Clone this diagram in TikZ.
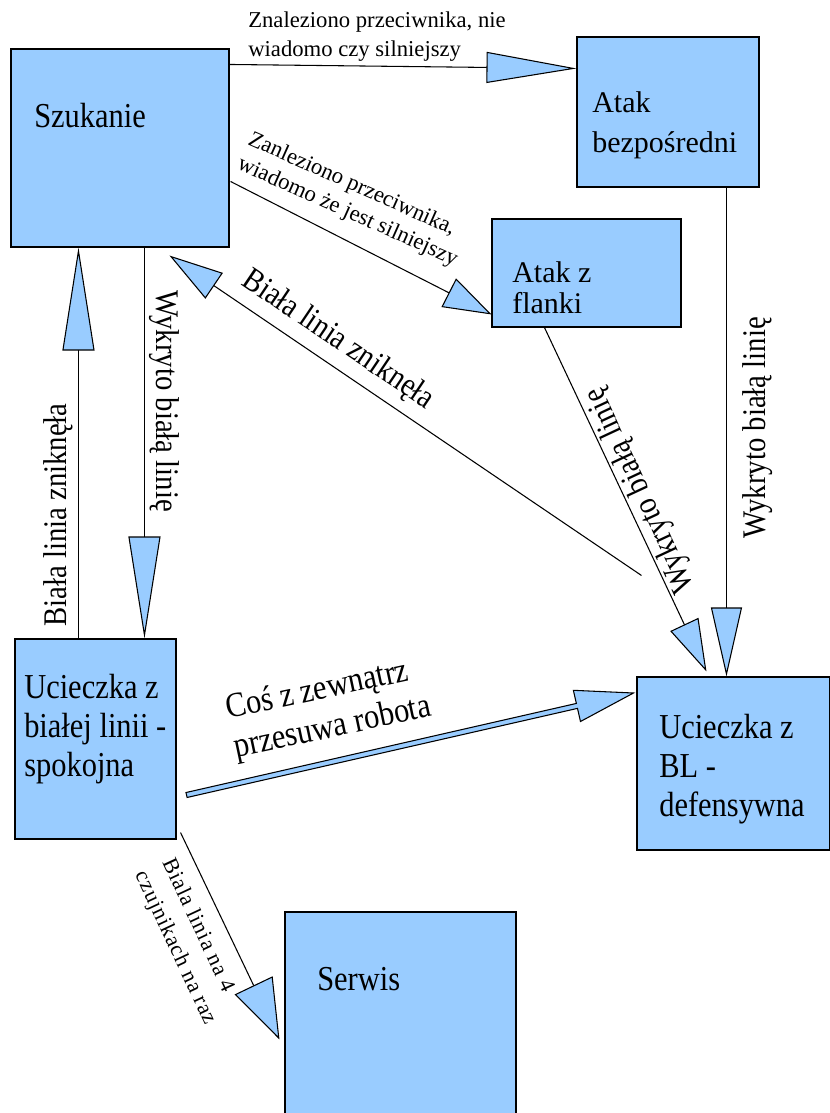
\documentclass[tikz,border=0pt]{standalone}
\usepackage{fontspec}
\setmainfont{Liberation Serif}
\newfontfamily\condfont[FakeStretch=0.87]{Liberation Serif}
\newfontfamily\spacedfont[LetterSpace=4]{Liberation Serif}
\usetikzlibrary{arrows.meta,calc,fit}
\definecolor{boxblue}{HTML}{99CCFF}
\newcommand{\mylines}[2][l]{\begin{tabular}[t]{@{}#1@{}}#2\end{tabular}}
\tikzset{
  box/.style={draw=black, fill=boxblue, line width=0.8pt, inner sep=0pt},
  bigtxt/.style={font=\condfont\fontsize{26.25pt}{29.6pt}\selectfont, inner sep=0pt},
  atxt/.style={font=\fontsize{22.5pt}{29.25pt}\selectfont, inner sep=0pt},
  atxtb/.style={font=\fontsize{22.5pt}{23.8pt}\selectfont, inner sep=0pt},
  lbltxt/.style={font=\condfont\fontsize{24.75pt}{28.5pt}\selectfont, inner sep=0pt},
  smalltxt/.style={font=\fontsize{17pt}{21.75pt}\selectfont, inner sep=0pt},
  conn/.style={draw=black, line width=0.8pt},
  hd/.style 2 args={-{Triangle[length=#1, width=#2, fill=boxblue]}}
}
\begin{document}
\begin{tikzpicture}[x=0.75pt,y=-0.75pt]
\useasboundingbox (0,0) rectangle (829,1113);
% boxes
\node[box, fit={(11,49)(229,247)}] (szuk) {};
\node[box, fit={(577,37)(759,187)}] (bezp) {};
\node[box, fit={(492,219)(681,327)}] (flank) {};
\node[box, fit={(15,639)(176,839)}] (spok) {};
\node[box, fit={(637,677)(830,850)}] (bl) {};
\node[box, fit={(285,912)(516,1116)}] (serw) {};
% box texts
\node[bigtxt, anchor=base west] (szukT) at (34,127) {Szukanie};
\node[atxt, anchor=base west] (bezpT) at (592,113) {\mylines{Atak\\bezpośredni}};
\node[atxtb, anchor=base west] (flankT) at (512,282) {\mylines{Atak z\\flanki}};
\node[bigtxt, anchor=base west] (spokT) at (24,698) {\mylines{Ucieczka z\\białej linii -\\spokojna}};
\node[bigtxt, anchor=base west] (blT) at (659,738) {\mylines{Ucieczka z\\BL -\\defensywna}};
\node[bigtxt, anchor=base west] (serwT) at (317,990) {Serwis};
% connectors
\draw[conn, hd={67.5pt}{23.25pt}] ($(szuk.north east)+(0,16)$) -- ($(bezp.north west)+(0,32)$);
\draw[conn, hd={36pt}{24pt}] ($(szuk.north east)+(1,133)$) -- ($(flank.north west)+(0,96)$);
\draw[conn, hd={77.25pt}{24pt}] ($(spok.north west)+(64,0)$) -- ($(szuk.south west)+(68,0)$);
\draw[conn, hd={76.5pt}{24pt}] ($(szuk.south west)+(134,0)$) -- ($(spok.north west)+(130,0)$);
\coordinate (bzfree) at ($(bl.north west)+(5,-101)$);
\draw[conn, hd={40.5pt}{23.25pt}] (bzfree) -- ($(szuk.south west)+(159,8)$);
\draw[conn, hd={39pt}{23.25pt}] ($(flank.south west)+(53,0)$) -- ($(bl.north west)+(70,-5)$);
\draw[conn, hd={51.75pt}{23.25pt}] ($(bezp.south west)+(150,0)$) -- ($(bl.north west)+(90,0)$);
\draw[conn, hd={45pt}{31.5pt}] ($(spok.south east)+(4,-7)$) -- ($(serw.north west)+(-5,128)$);
% hollow arrow
\coordinate (cs) at ($(spok.east)+(10,56)$);
\coordinate (ct) at ($(bl.west)+(-3,-70.5)$);
\coordinate (cb) at ($(ct)!43.5pt!(cs)$);
\draw[conn, fill=boxblue, line join=miter]
  ($(cs)!1.9pt!90:(ct)$) -- ($(cb)!1.9pt!-90:(cs)$) -- ($(cb)!12pt!-90:(cs)$) -- (ct)
  -- ($(cb)!12pt!90:(cs)$) -- ($(cb)!1.9pt!90:(cs)$) -- ($(cs)!1.9pt!-90:(ct)$) -- cycle;
% labels
\node[lbltxt, rotate=90] (l1) at (58,515) {Biała linia zniknęła};
\node[lbltxt, rotate=-90] (l2) at (164,401) {Wykryto białą linię};
\node[lbltxt, rotate=90] (l3) at (758,428) {Wykryto białą linię};
\node[lbltxt, rotate=115] (l4) at (641,490) {Wykryto białą linię};
\node[lbltxt, rotate=-34] (l5) at (338,340) {Biała linia zniknęła};
\node[bigtxt, rotate=12, anchor=base west] (l6) at (228,719) {\mylines{Coś z zewnątrz\\przesuwa robota}};
\node[smalltxt, anchor=base west] (l7) at (248,28) {\mylines{Znaleziono przeciwnika, nie\\wiadomo czy silniejszy}};
\node[smalltxt, font=\fontsize{17pt}{20.25pt}\selectfont, rotate=-24, anchor=base west] (l8) at (247,144) {\mylines{Zanleziono przeciwnika,\\wiadomo że jest silniejszy}};
\node[smalltxt, font=\spacedfont\fontsize{16.5pt}{22.5pt}\selectfont, rotate=-65, anchor=base west] (l9) at (162,862) {\mylines{Biala linia na 4\\czujnikach na raz}};
\end{tikzpicture}
\end{document}
